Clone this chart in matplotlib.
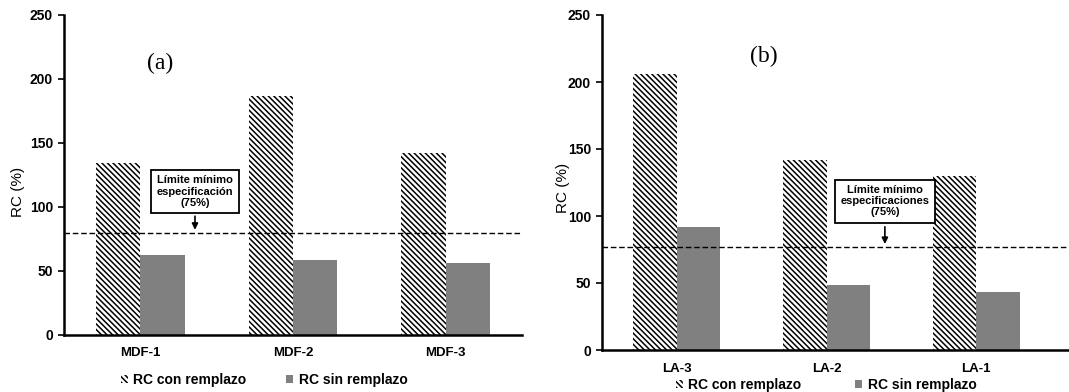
import numpy as np
import matplotlib.pyplot as plt

plt.rcParams['font.family'] = ['Liberation Sans', 'DejaVu Sans']
plt.rcParams['hatch.linewidth'] = 1.1

cats_a = ['MDF-1', 'MDF-2', 'MDF-3']
con_a = [134, 187, 142]
sin_a = [62.5, 58.5, 56]
lim_a = 80

cats_b = ['LA-3', 'LA-2', 'LA-1']
con_b = [206, 142, 130]
sin_b = [92, 48.5, 43]
lim_b = 77

W, H = 1069, 392
fig = plt.figure(figsize=(W / 100, H / 100), dpi=100)


def panel(rect, xmax, cats, con, sin, lim, tag, tagpos, boxtxt, boxpos, legpos, colsp, labpos):
    ax = fig.add_axes(rect)
    x = np.arange(len(cats))
    w = 0.29
    b1 = ax.bar(x - w / 2, con, w, color='white', edgecolor='black', hatch='\\' * 6, linewidth=0,
                label='RC con remplazo')
    b2 = ax.bar(x + w / 2, sin, w, color='#808080', label='RC sin remplazo')
    ax.axhline(lim, color='black', linestyle='--', linewidth=1, dashes=(4, 2))
    ax.set_xlim(-0.5, xmax)
    ax.set_ylim(0, 250)
    ax.set_yticks([0, 50, 100, 150, 200, 250])
    ax.set_xticks(x)
    ax.set_xticklabels(cats, fontweight='bold', fontsize=9.5)
    ax.tick_params(axis='x', length=0, pad=9)
    ax.tick_params(axis='y', length=4, width=1.2, labelsize=10, pad=4)
    for t in ax.get_yticklabels():
        t.set_fontweight('bold')
    ax.spines['top'].set_visible(False)
    ax.spines['right'].set_visible(False)
    ax.spines['left'].set_linewidth(1.8)
    ax.spines['bottom'].set_linewidth(1.8)
    ax.set_ylabel('RC (%)', fontsize=11)
    ax.yaxis.set_label_coords(labpos[0], labpos[1])
    ax.text(tagpos[0], tagpos[1], tag, fontsize=17, family='Liberation Serif',
            ha='center', va='center')
    ax.annotate('', xy=(boxpos[0], lim), xytext=(boxpos[0], boxpos[1] - 17),
                arrowprops=dict(arrowstyle='-|>', color='black', lw=1.2, mutation_scale=9))
    ax.text(boxpos[0], boxpos[1], boxtxt, fontsize=8, fontweight='bold', ha='center', va='center',
            linespacing=1.15,
            bbox=dict(boxstyle='square,pad=0.5', facecolor='white', edgecolor='black', linewidth=1.3))
    ax.legend(handles=[b1, b2], loc='center', bbox_to_anchor=legpos, ncol=2, frameon=False,
              prop={'weight': 'bold', 'size': 10}, handlelength=0.5, handleheight=0.5,
              handletextpad=0.4, columnspacing=colsp)
    return ax


panel([64 / W, 57 / H, 458 / W, 320 / H], 2.5, cats_a, con_a, sin_a, lim_a, '(a)', (0.13, 212),
      'Límite mínimo\nespecificación\n(75%)', (0.358, 112), (0.437, -0.14), 2.9, (-0.0855, 0.447))
panel([602 / W, 42 / H, 467 / W, 335 / H], 2.62, cats_b, con_b, sin_b, lim_b, '(b)', (0.58, 219),
      'Límite mínimo\nespecificaciones\n(75%)', (1.39, 111), (0.48, -0.105), 3.9, (-0.069, 0.484))

fig.savefig('out.png', dpi=100)
